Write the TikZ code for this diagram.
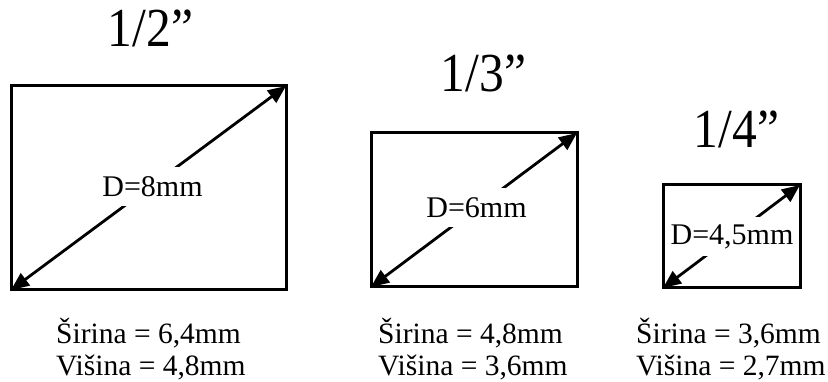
\documentclass[tikz,border=0pt]{standalone}
\usepackage{fontspec}
\usepackage{graphicx}
\setmainfont{Liberation Serif}
\usetikzlibrary{arrows.meta}
\begin{document}
\begin{tikzpicture}[x=1pt,y=-1pt,
  frame/.style={draw, line width=3pt, inner sep=0pt, outer sep=0pt},
  dimline/.style={{Triangle[length=18pt,width=15pt]}-{Triangle[length=18pt,width=15pt]}, line width=2.8pt},
  dlabel/.style={fill=white, inner xsep=1pt, inner ysep=0pt, minimum height=39pt, font=\fontsize{30}{36}\selectfont},
  title/.style={anchor=base, inner sep=0pt, font=\fontsize{55}{60}\selectfont},
  size/.style={anchor=base west, inner sep=0pt, font=\fontsize{29.5}{34}\selectfont}]
\useasboundingbox (0,0) rectangle (828,382);
% frames
\node[frame, minimum width=275pt, minimum height=204pt] (r1) at (148.5,188) {};
\node[frame, minimum width=206pt, minimum height=154pt] (r2) at (474,210) {};
\node[frame, minimum width=137pt, minimum height=103pt] (r3) at (731.5,236.5) {};
% diagonals
\draw[dimline] (r1.south west) -- (r1.north east);
\draw[dimline] (r2.south west) -- (r2.north east);
\draw[dimline] (r3.south west) -- (r3.north east);
% diagonal labels
\node[dlabel] (d1) at ([xshift=4pt,yshift=1.5pt]r1.center) {D=8mm};
\node[dlabel] (d2) at ([xshift=2.5pt,yshift=2pt]r2.center) {D=6mm};
\node[dlabel] (d3) at ([xshift=0.5pt]r3.center) {D=4,5mm};
% titles
\node[title] (t1) at (150.5,47) {\scalebox{0.9}[1]{1/2”}};
\node[title] (t2) at (483.5,92) {\scalebox{0.9}[1]{1/3”}};
\node[title] (t3) at (736.5,148) {\scalebox{0.9}[1]{1/4”}};
% sizes
\node[size] (w1) at (56,344) {Širina = 6,4mm};
\node[size] (h1) at (56,375) {Višina = 4,8mm};
\node[size] (w2) at (378,344) {Širina = 4,8mm};
\node[size] (h2) at (378,375) {Višina = 3,6mm};
\node[size] (w3) at (636,344) {Širina = 3,6mm};
\node[size] (h3) at (636,375) {Višina = 2,7mm};
\end{tikzpicture}
\end{document}
